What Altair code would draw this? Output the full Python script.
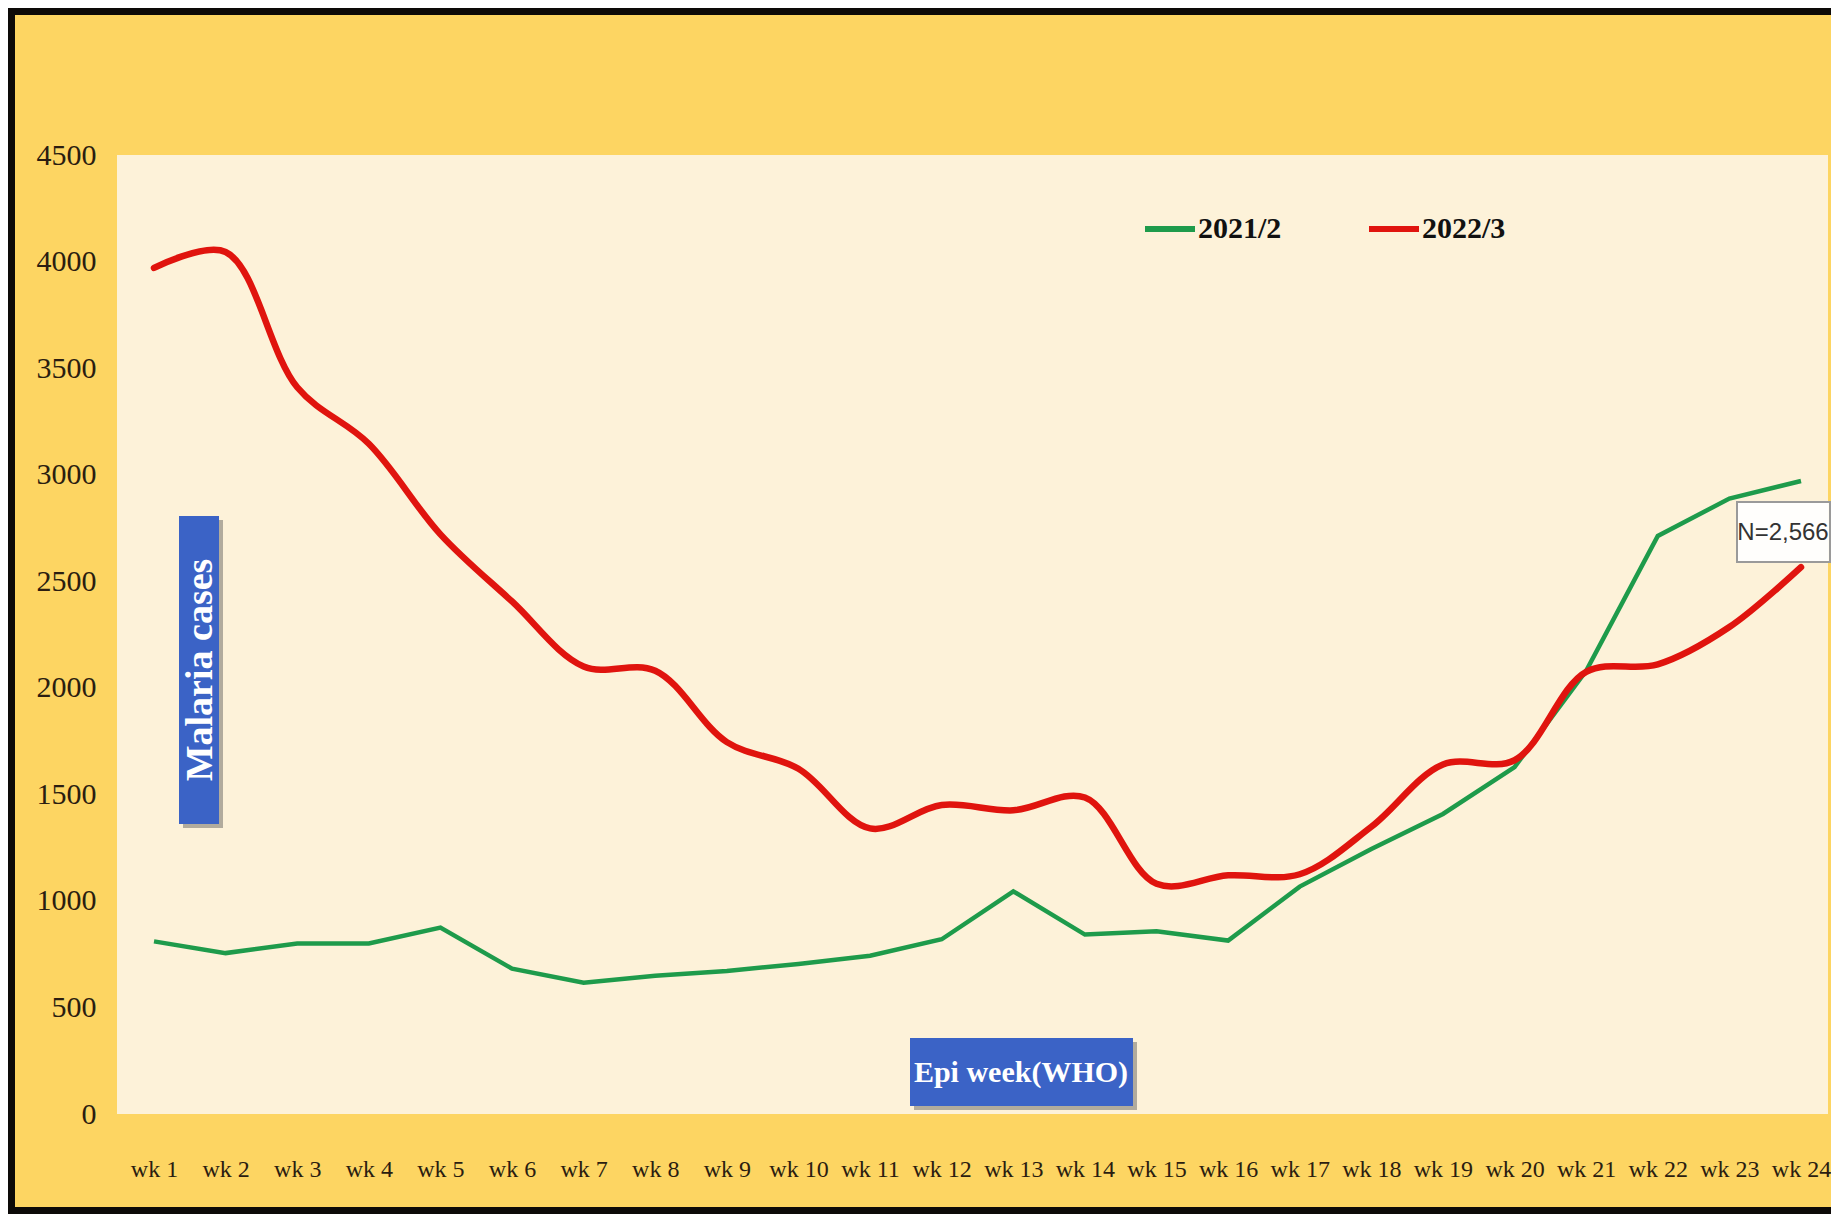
import altair as alt
import pandas as pd

weeks = ["wk 1", "wk 2", "wk 3", "wk 4", "wk 5", "wk 6", "wk 7", "wk 8", "wk 9", "wk 10",
         "wk 11", "wk 12", "wk 13", "wk 14", "wk 15", "wk 16", "wk 17", "wk 18", "wk 19",
         "wk 20", "wk 21", "wk 22", "wk 23", "wk 24"]
series_names = ["2021/2", "2022/3"]
cases_2021 = [810, 755, 800, 800, 875, 682, 616, 649, 671, 704, 743, 820, 1045, 842, 858,
              814, 1067, 1243, 1408, 1628, 2080, 2712, 2888, 2970]
cases_2022 = [3970, 4045, 3410, 3145, 2720, 2405, 2100, 2080, 1745, 1620, 1340, 1450, 1425,
              1485, 1080, 1120, 1125, 1348, 1640, 1660, 2075, 2110, 2285, 2566]
y_ticks = [0, 500, 1000, 1500, 2000, 2500, 3000, 3500, 4000, 4500]

GREEN = "#1E9B4B"
RED = "#E0140E"
GOLD = "#FDD562"
CREAM = "#FDF2D9"
BLUE = "#3B63C6"
BLACK = "#0d0a08"

W, H = 1714, 959
PAD = {"left": 109, "top": 147, "right": 0, "bottom": 100}

df = pd.DataFrame({
    "week": weeks * 2,
    "series": [series_names[0]] * len(weeks) + [series_names[1]] * len(weeks),
    "cases": cases_2021 + cases_2022,
})
one = pd.DataFrame({"a": [0]})

x_enc = alt.X(
    "week:N", sort=weeks,
    scale=alt.Scale(type="point", padding=0, range=[37, 1684]),
    axis=alt.Axis(title=None, labelAngle=0, labelFont="Liberation Serif", labelFontSize=24,
                  labelColor="#2b1d10", labelPadding=55, labelBaseline="middle",
                  ticks=False, tickSize=0, domain=False, grid=False, zindex=1),
)
y_enc = alt.Y(
    "cases:Q",
    scale=alt.Scale(domain=[0, 4500], nice=False),
    axis=alt.Axis(title=None, values=y_ticks, format="d", labelFont="Liberation Serif",
                  labelFontSize=30, labelColor="#2b1d10", labelPadding=21,
                  ticks=False, tickSize=0, domain=False, grid=False, zindex=1),
)
color_enc = alt.Color(
    "series:N",
    scale=alt.Scale(domain=series_names, range=[GREEN, RED]),
    legend=alt.Legend(orient="none", legendX=1025, legendY=46, direction="horizontal",
                      title=None, symbolType="stroke", symbolSize=2500, symbolStrokeWidth=6,
                      labelFont="Liberation Serif", labelFontSize=30, labelFontWeight="bold",
                      labelColor="#111111", labelOffset=0, columnPadding=75, padding=0,
                      zindex=1),
)

L, T = -PAD["left"], -PAD["top"]
R, B = W + PAD["right"], H + PAD["bottom"]

gold_bg = alt.Chart(one).mark_rect(fill=GOLD).encode(
    x=alt.value(L), x2=alt.value(R), y=alt.value(T), y2=alt.value(B))
black_left = alt.Chart(one).mark_rect(fill=BLACK).encode(
    x=alt.value(L), x2=alt.value(L + 7), y=alt.value(T), y2=alt.value(B))
black_top = alt.Chart(one).mark_rect(fill=BLACK).encode(
    x=alt.value(L), x2=alt.value(R), y=alt.value(T), y2=alt.value(T + 7))
black_bottom = alt.Chart(one).mark_rect(fill=BLACK).encode(
    x=alt.value(L), x2=alt.value(R), y=alt.value(B - 7), y2=alt.value(B))
plot_bg = alt.Chart(one).mark_rect(fill=CREAM).encode(
    x=alt.value(0), x2=alt.value(W - 3), y=alt.value(0), y2=alt.value(H))

mal_shadow = alt.Chart(one).mark_rect(fill="#555555", opacity=0.45).encode(
    x=alt.value(66), x2=alt.value(106), y=alt.value(365), y2=alt.value(673))
mal_box = alt.Chart(one).mark_rect(fill=BLUE).encode(
    x=alt.value(62), x2=alt.value(102), y=alt.value(361), y2=alt.value(669))
mal_text = alt.Chart(one).mark_text(
    angle=270, font="Liberation Serif", fontWeight="bold", fontSize=38, color="white",
    align="center", baseline="middle").encode(
    x=alt.value(84), y=alt.value(515), text=alt.value("Malaria  cases"))

epi_shadow = alt.Chart(one).mark_rect(fill="#555555", opacity=0.45).encode(
    x=alt.value(797), x2=alt.value(1020), y=alt.value(887), y2=alt.value(955))
epi_box = alt.Chart(one).mark_rect(fill=BLUE).encode(
    x=alt.value(793), x2=alt.value(1016), y=alt.value(883), y2=alt.value(951))
epi_text = alt.Chart(one).mark_text(
    font="Liberation Serif", fontWeight="bold", fontSize=30, color="white",
    align="center", baseline="middle").encode(
    x=alt.value(904), y=alt.value(918), text=alt.value("Epi week(WHO)"))

green_line = alt.Chart(df).transform_filter(
    alt.datum.series == series_names[0]).mark_line(
    strokeWidth=4.5, interpolate="linear").encode(x=x_enc, y=y_enc, color=color_enc)
red_line = alt.Chart(df).transform_filter(
    alt.datum.series == series_names[1]).mark_line(
    strokeWidth=6.5, interpolate="catmull-rom", strokeCap="round").encode(
    x=x_enc, y=y_enc, color=color_enc)

n_box = alt.Chart(one).mark_rect(fill="white", fillOpacity=0.92, stroke="#9a9a9a",
                                 strokeWidth=2).encode(
    x=alt.value(1620), x2=alt.value(1713), y=alt.value(347), y2=alt.value(407))
n_text = alt.Chart(one).mark_text(
    font="Liberation Sans", fontSize=24, color="#333333",
    align="center", baseline="middle").encode(
    x=alt.value(1666), y=alt.value(378), text=alt.value("N=2,566"))

chart = alt.layer(
    gold_bg, black_left, black_top, black_bottom, plot_bg,
    mal_shadow, mal_box, mal_text, epi_shadow, epi_box, epi_text,
    green_line, red_line, n_box, n_text,
).properties(
    width=W, height=H, padding=PAD, autosize=alt.AutoSizeParams(type="none"),
    background=GOLD,
).configure_view(stroke=None, fill=CREAM)

chart.save("out.html", embed_options={"renderer": "svg", "actions": False})
